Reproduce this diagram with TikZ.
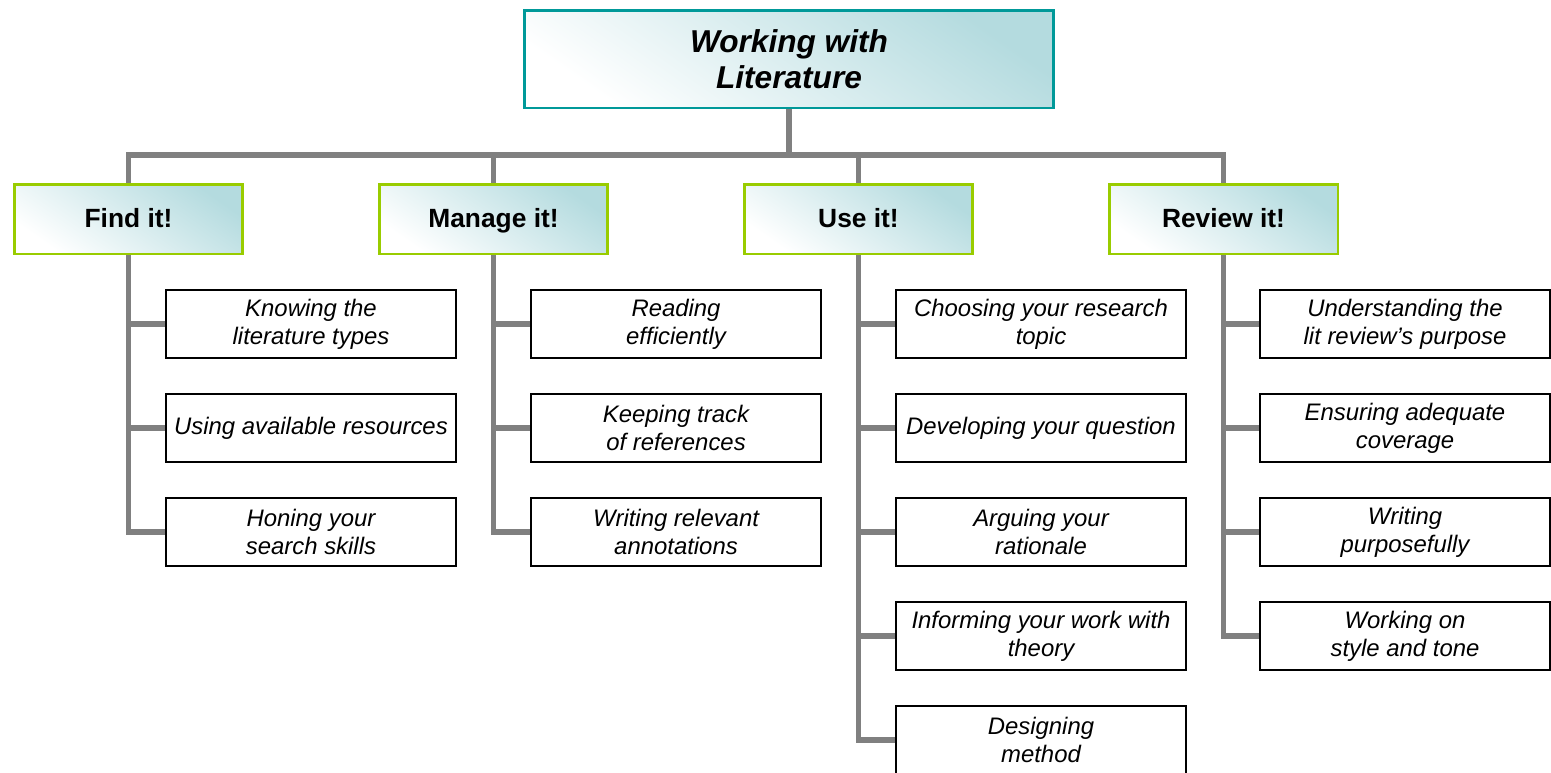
\documentclass[tikz,border=0pt]{standalone}
\usepackage{fontspec}
\setmainfont{Liberation Sans}
\usepackage{tikz}
\definecolor{tealline}{RGB}{0,153,153}
\definecolor{tealfill}{RGB}{180,219,223}
\definecolor{limeline}{RGB}{153,204,0}
\definecolor{linkgray}{RGB}{128,128,128}

\begin{document}
\begin{tikzpicture}[x=0.02cm, y=-0.02cm,
    topbox/.style={draw=tealline, line width=1.7pt,
        minimum width=10.6cm, minimum height=1.96cm,
        align=center, left color=white, right color=tealfill, shading angle=145,
        font=\fontsize{18}{20.5}\selectfont\bfseries\itshape},
    catbox/.style={draw=limeline, line width=1.7pt,
        minimum width=4.58cm, minimum height=1.4cm,
        text height=0.95em, text depth=0pt,
        align=center, left color=white, right color=tealfill, shading angle=145,
        font=\fontsize{15}{17}\selectfont\bfseries},
    itembox/.style={draw=black, line width=1.1pt, fill=white,
        minimum width=5.8cm, minimum height=1.36cm, inner sep=1pt,
        align=center, font=\fontsize{13.6}{16}\selectfont\itshape},
    link/.style={draw=linkgray, line width=3.1pt}
    ]

    \useasboundingbox (0,0) rectangle (1551,772);

    \coordinate (hub) at (789,155);

    \node[topbox] (top) at (789,59) {Working with\\Literature};

    \node[catbox] (find) at (128.5,219) {Find it!};
    \node[catbox] (manage) at (493.5,219) {Manage it!};
    \node[catbox] (use) at (858.5,219) {Use it!};
    \node[catbox] (review) at (1223.5,219) {Review it!};

    \draw[link] (top.south) -- (hub);
    \draw[link] (hub) -| (find.north);
    \draw[link] (hub) -| (manage.north);
    \draw[link] (hub) -| (use.north);
    \draw[link] (hub) -| (review.north);

    % Find it!
    \node[itembox] (f1) at (311,324) {Knowing the\\literature types};
    \node[itembox] (f2) at (311,428) {Using available\ resources};
    \node[itembox] (f3) at (311,532) {Honing your\\search skills};

    % Manage it!
    \node[itembox] (m1) at (676,324) {Reading\\efficiently};
    \node[itembox] (m2) at (676,428) {Keeping track\\of references};
    \node[itembox] (m3) at (676,532) {Writing relevant\\annotations};

    % Use it!
    \node[itembox] (u1) at (1041,324) {Choosing your research\\topic};
    \node[itembox] (u2) at (1041,428) {Developing your question};
    \node[itembox] (u3) at (1041,532) {Arguing your\\rationale};
    \node[itembox] (u4) at (1041,636) {Informing your work with\\theory};
    \node[itembox] (u5) at (1041,740) {Designing\\method};

    % Review it!
    \node[itembox] (r1) at (1405,324) {Understanding the\\lit review's purpose};
    \node[itembox] (r2) at (1405,428) {Ensuring adequate\\coverage};
    \node[itembox] (r3) at (1405,532) {Writing\\purposefully};
    \node[itembox] (r4) at (1405,636) {Working on\\style and tone};

    \draw[link] (find.south) |- (f1.west);
    \draw[link] (find.south) |- (f2.west);
    \draw[link] (find.south) |- (f3.west);

    \draw[link] (manage.south) |- (m1.west);
    \draw[link] (manage.south) |- (m2.west);
    \draw[link] (manage.south) |- (m3.west);

    \draw[link] (use.south) |- (u1.west);
    \draw[link] (use.south) |- (u2.west);
    \draw[link] (use.south) |- (u3.west);
    \draw[link] (use.south) |- (u4.west);
    \draw[link] (use.south) |- (u5.west);

    \draw[link] (review.south) |- (r1.west);
    \draw[link] (review.south) |- (r2.west);
    \draw[link] (review.south) |- (r3.west);
    \draw[link] (review.south) |- (r4.west);

\end{tikzpicture}
\end{document}
